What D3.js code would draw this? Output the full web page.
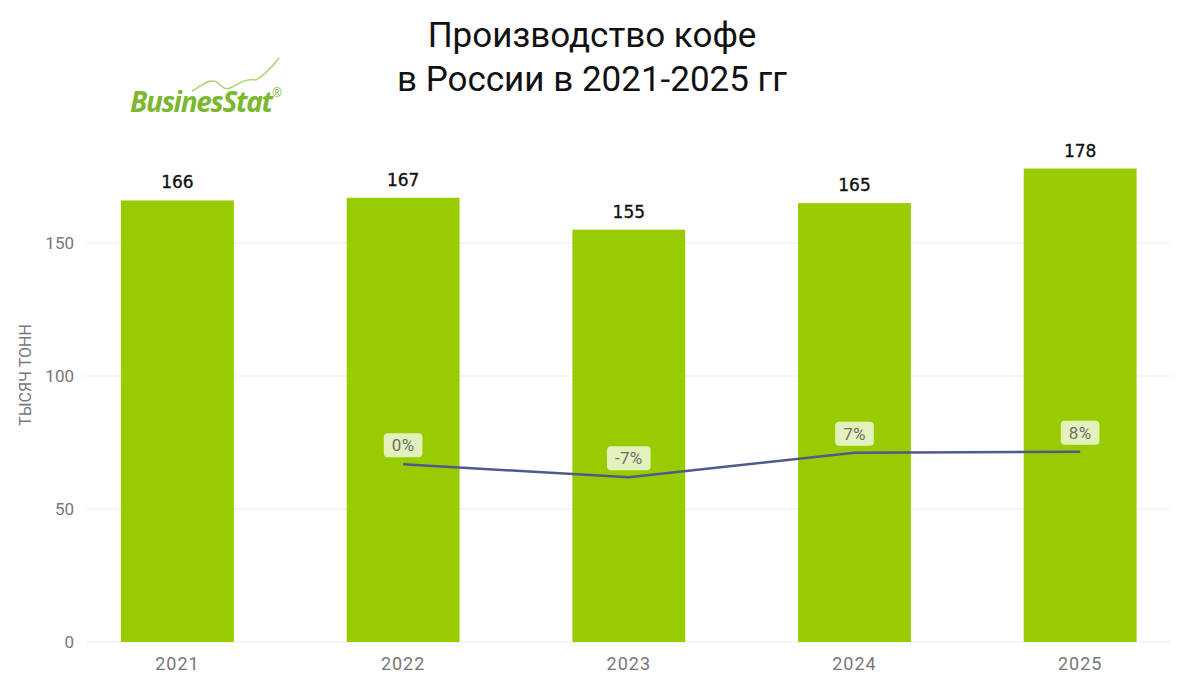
<!DOCTYPE html>
<html><head><meta charset="utf-8">
<script src="https://cdn.jsdelivr.net/npm/d3@7"></script>
<style>body{margin:0;background:#fff;} svg{display:block;}</style>
</head><body>
<svg id="chart" width="1180" height="684"></svg>
<script>
const years = ["2021","2022","2023","2024","2025"];
const values = [166, 167, 155, 165, 178];
const growthYears = ["2022","2023","2024","2025"];
const growthLine = [0.0, -7.4, 6.6, 7.2];
const growthLabels = ["0%", "-7%", "7%", "8%"];
const yTicks = [0, 50, 100, 150];

const svg = d3.select("#chart");
const x = d3.scaleBand().domain(years).range([64.6, 1193]).paddingInner(0.5).paddingOuter(0.25);
const y = d3.scaleLinear().domain([0, 150]).range([642, 243]);
const y2 = d3.scaleLinear().domain([-50, 50]).range([551.8, 376.8]);

// title
const title = svg.append("text").attr("text-anchor","middle").attr("font-family","Roboto, sans-serif")
  .attr("font-size",35).attr("fill","#111");
title.append("tspan").attr("x",592).attr("y",47).text("Производство кофе");
title.append("tspan").attr("x",592).attr("y",91).text("в России в 2021-2025 гг");

// logo
const logo = svg.append("g");
logo.append("path").attr("d","M192,91 C200,87 206,80 214,81 C220,82 222,91 230,88 C238,85 244,78 256,80 C266,74 273,66 279,58")
  .attr("fill","none").attr("stroke","#a8d46f").attr("stroke-width",1.4);
logo.append("text").attr("x",130).attr("y",112).attr("font-family","'Open Sans', sans-serif")
  .attr("font-weight","bold").attr("font-style","italic").attr("font-size",28).attr("letter-spacing",-1.3)
  .attr("fill","#7cb82f").text("BusinesStat");
logo.append("text").attr("x",272).attr("y",97).attr("font-family","'Open Sans', sans-serif")
  .attr("font-size",12).attr("fill","#7cb82f").text("®");

// grid
svg.append("g").selectAll("line").data(yTicks).join("line")
  .attr("x1",86).attr("x2",1170).attr("y1",d=>y(d)).attr("y2",d=>y(d))
  .attr("stroke","#ebebeb").attr("stroke-width",1);

// y ticks
svg.append("g").selectAll("text").data(yTicks).join("text")
  .attr("x",74).attr("y",d=>y(d)).attr("dy","0.35em").attr("text-anchor","end")
  .attr("font-family","Roboto, sans-serif").attr("font-size",17).attr("fill","#777")
  .text(d=>d);

// y label
svg.append("text").attr("transform","translate(31,375) rotate(-90)").attr("text-anchor","middle")
  .attr("font-family","Roboto, sans-serif").attr("font-size",16).attr("fill","#777").text("ТЫСЯЧ ТОНН");

// bars
svg.append("g").selectAll("rect").data(values).join("rect")
  .attr("x",(d,i)=>x(years[i])).attr("width",x.bandwidth())
  .attr("y",d=>y(d)).attr("height",d=>y(0)-y(d)).attr("fill","#99cc00");

// value labels
svg.append("g").selectAll("text").data(values).join("text")
  .attr("x",(d,i)=>x(years[i])+x.bandwidth()/2).attr("y",d=>y(d)-12).attr("text-anchor","middle")
  .attr("font-family","'DejaVu Sans', sans-serif").attr("font-size",17).attr("fill","#111")
  .attr("stroke","#111").attr("stroke-width",0.35)
  .text(d=>d);

// x labels
svg.append("g").selectAll("text").data(years).join("text")
  .attr("x",d=>x(d)+x.bandwidth()/2).attr("y",670).attr("text-anchor","middle")
  .attr("font-family","Roboto, sans-serif").attr("font-size",18).attr("letter-spacing",1).attr("fill","#777")
  .text(d=>d);

// line
const cx = (i)=>x(growthYears[i])+x.bandwidth()/2;
const line = d3.line().x((d,i)=>cx(i)).y(d=>y2(d));
svg.append("path").datum(growthLine).attr("d",line).attr("fill","none")
  .attr("stroke","#4f5a8c").attr("stroke-width",2.5);

// line labels
const lg = svg.append("g").selectAll("g").data(growthLine).join("g")
  .attr("transform",(d,i)=>`translate(${cx(i)},${y2(d)-19})`);
lg.append("text").attr("text-anchor","middle").attr("dy","0.35em")
  .attr("font-family","Roboto, sans-serif").attr("font-size",17).attr("letter-spacing",0.3).attr("fill","#6e6e6e")
  .text((d,i)=>growthLabels[i]);
lg.each(function(){
  const g = d3.select(this); const bb = g.select("text").node().getBBox();
  g.insert("rect","text").attr("x",bb.x-8).attr("y",-12).attr("width",bb.width+16).attr("height",24)
    .attr("rx",4).attr("fill","#e3f1bd");
});
</script>
</body></html>
